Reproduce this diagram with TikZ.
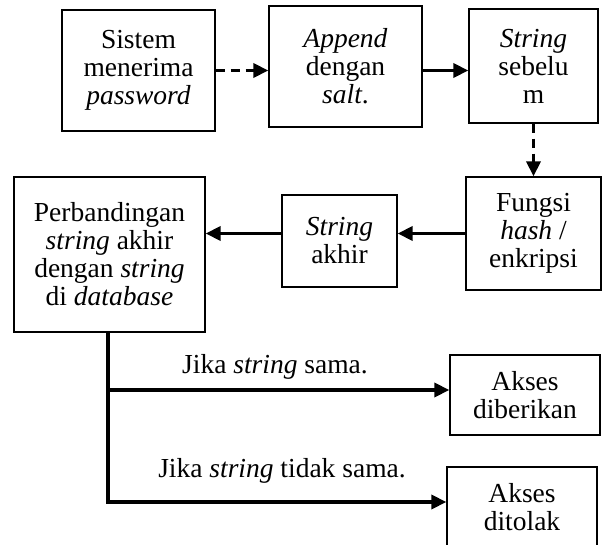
\documentclass[tikz,border=0pt]{standalone}
\usepackage{fontspec}
\setmainfont{Liberation Serif}
\usetikzlibrary{arrows.meta}
\tikzset{
  box/.style={draw, line width=1.3pt, inner sep=0pt, align=center,
    font=\fontsize{27.5}{28}\selectfont},
  lbl/.style={inner sep=0pt, font=\fontsize{27.5}{28}\selectfont},
  conn/.style={line width=3.6pt, -{Triangle[length=15pt,width=14pt]}},
  dconn/.style={conn, dash pattern=on 9pt off 6pt},
}
\begin{document}
\begin{tikzpicture}[x=1pt,y=-1pt]
\useasboundingbox (0,0) rectangle (605,545);
\clip (0,0) rectangle (605,545);
\node[box, minimum width=153pt, minimum height=121pt] (b1) at (138.5,70.5) {Sistem\\menerima\\\textit{password}};
\node[box, minimum width=153pt, minimum height=121pt] (b2) at (345.5,66.5) {\textit{Append}\\dengan\\\textit{salt}.};
\node[box, minimum width=129pt, minimum height=114pt] (b3) at (533.5,66) {\textit{String}\\sebelu\\m};
\node[box, minimum width=135pt, minimum height=113pt] (b4) at (533.5,233.5) {Fungsi\\\textit{hash} /\\enkripsi};
\node[box, minimum width=115pt, minimum height=92pt] (b5) at (339.5,241) {\textit{String}\\akhir};
\node[box, minimum width=191pt, minimum height=155pt] (b6) at (109.5,254.5) {Perbandingan\\\textit{string} akhir\\dengan \textit{string}\\di \textit{database}};
\node[box, minimum width=150pt, minimum height=80pt] (b7) at (525,395) {Akses\\diberikan};
\node[box, minimum width=150pt, minimum height=80pt] (b8) at (522,507) {Akses\\ditolak};
\node[lbl, anchor=base] (l1) at (275,373) {Jika \textit{string} sama.};
\node[lbl, anchor=base] (l2) at (282,477) {Jika \textit{string} tidak sama.};
\draw[dconn] (b1.east) -- (b2.west |- b1.east);
\draw[conn] (b2.east |- b1.east) -- (b3.west |- b1.east);
\draw[dconn] (b3.south) -- (b4.north);
\draw[conn] (b4.west) -- (b5.east |- b4.west);
\draw[conn] (b5.west |- b4.west) -- (b6.east |- b4.west);
\draw[conn] ([xshift=-1.5pt]b6.south) |- ([yshift=5pt]b7.west);
\draw[conn] ([xshift=-1.5pt]b6.south) |- ([yshift=5pt]b8.west);
\end{tikzpicture}
\end{document}
